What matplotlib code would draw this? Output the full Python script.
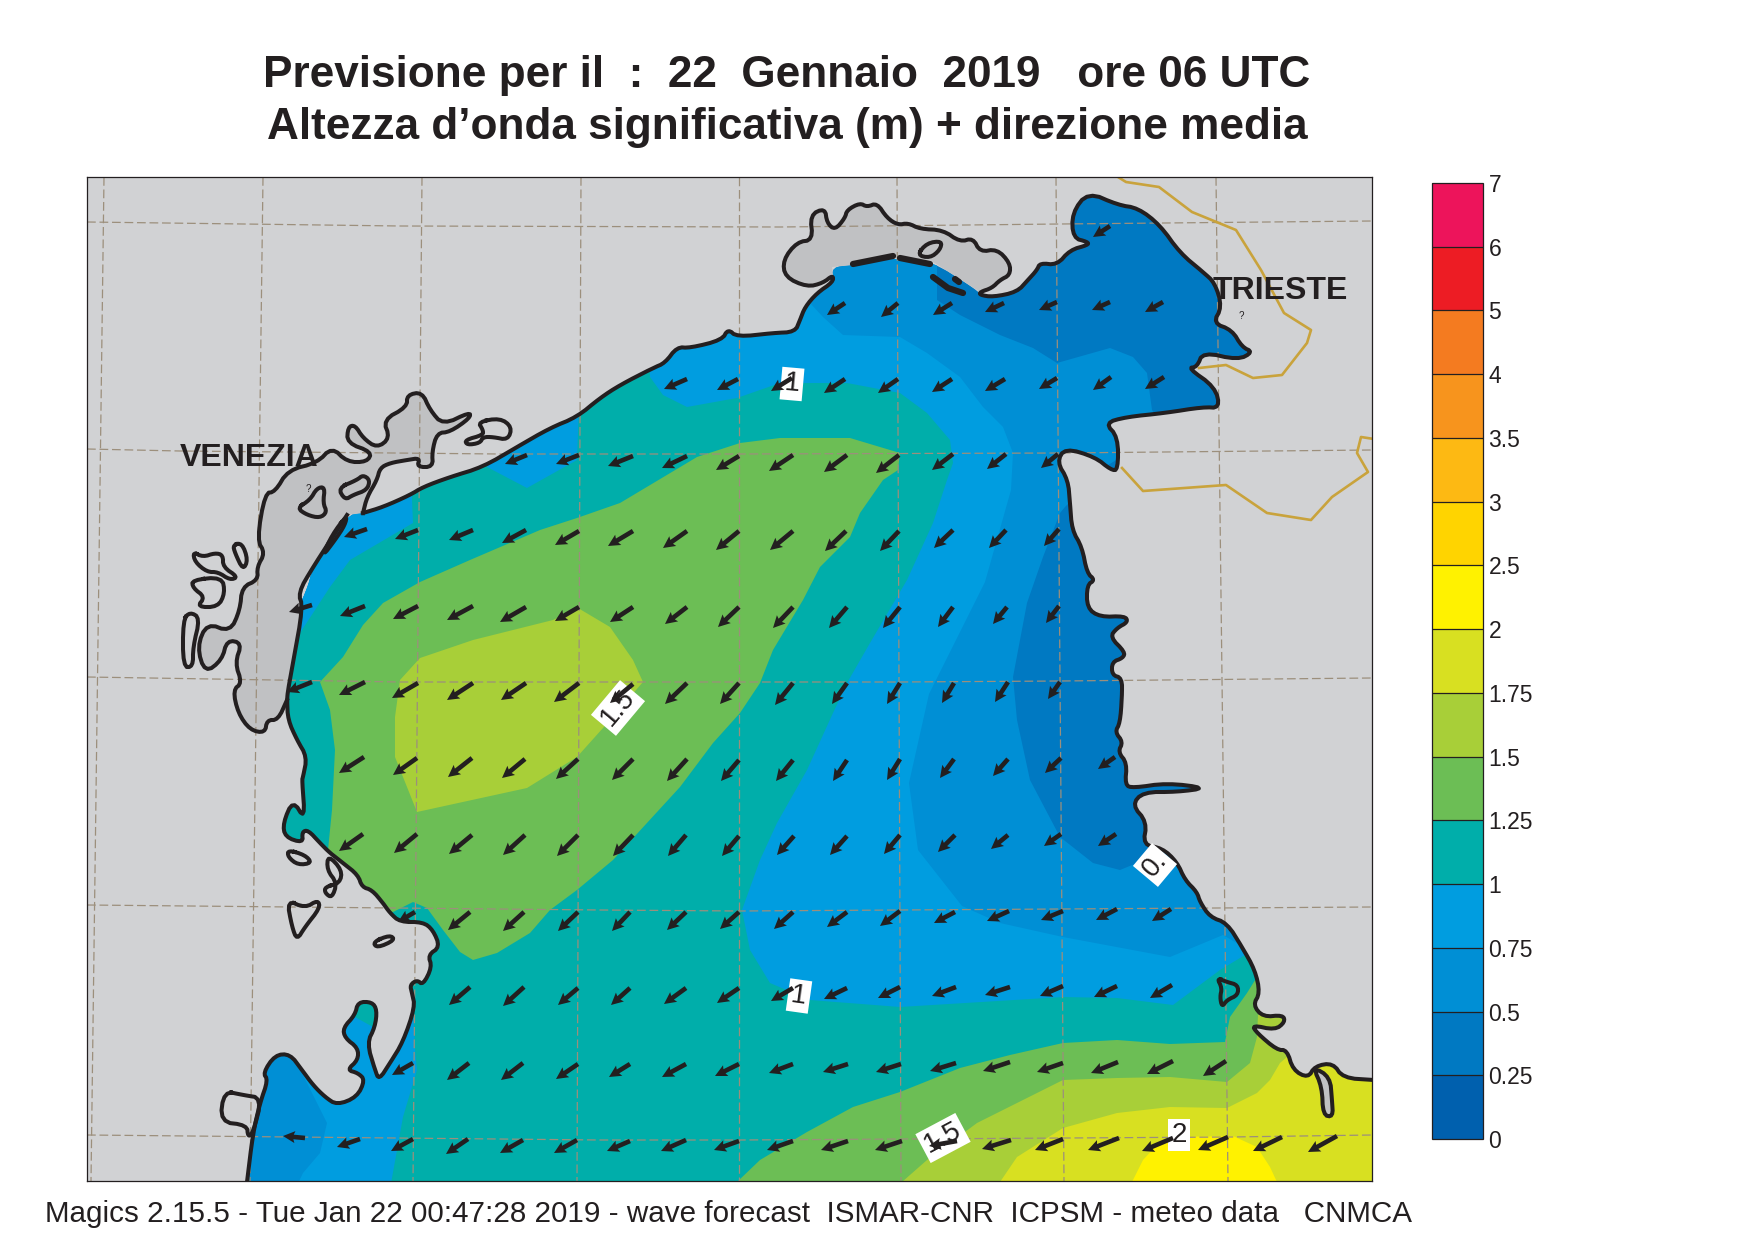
import matplotlib
matplotlib.use('Agg')
import matplotlib.pyplot as plt
from matplotlib.colors import ListedColormap, BoundaryNorm
from matplotlib.colorbar import ColorbarBase

plt.rcParams['font.family'] = ['Liberation Sans', 'DejaVu Sans']

DARK = '#231f20'
LAND = '#d1d2d4'
LAGOON = '#c0c1c3'
GRID = '#9c8f7c'
BORDER = '#c9a33c'

# colour scale
levels = [0, 0.25, 0.5, 0.75, 1, 1.25, 1.5, 1.75, 2, 2.5, 3, 3.5, 4, 5, 6, 7]
level_labels = ['0', '0.25', '0.5', '0.75', '1', '1.25', '1.5', '1.75', '2', '2.5', '3', '3.5', '4', '5', '6', '7']
level_colors = ['#0060ae', '#0079c2', '#008fd5', '#009de0', '#00aeaa', '#6cbe55', '#a8cf38', '#d8e021',
                '#fff200', '#ffd400', '#fdb913', '#f7941d', '#f47b20', '#ed1c24', '#ed145b']

# coast, in map units
coast_sw = [(247, 1182), (253, 1133), (260, 1103), (268, 1080), (263, 1073), (275, 1055), (290, 1054), (302, 1070),
            (313, 1085), (325, 1097), (337, 1105), (357, 1097), (365, 1080), (358, 1073), (347, 1070), (358, 1060),
            (358, 1048), (345, 1038), (343, 1028), (355, 1015), (358, 1002), (372, 1002), (377, 1010), (375, 1027),
            (367, 1043), (375, 1070), (379, 1080), (390, 1063), (403, 1042), (415, 1007), (412, 993), (410, 985),
            (417, 980), (423, 985), (432, 967), (428, 955), (440, 947), (433, 930), (423, 922), (400, 922),
            (390, 913), (383, 903), (372, 890), (362, 887), (358, 875), (343, 863), (330, 853), (320, 843),
            (308, 830), (302, 832), (303, 843), (285, 837), (283, 823), (293, 800), (305, 820), (302, 780),
            (303, 777), (307, 757), (297, 740), (288, 720), (287, 700)]
lido_line = [(288, 690), (293, 663), (303, 607), (298, 593), (313, 567), (347, 515)]
lido_sea = [(289, 690), (290, 625), (307, 590), (313, 567), (347, 515)]
coast_n = [(363, 513), (383, 507), (410, 495), (423, 487), (450, 477), (483, 467), (517, 447), (550, 428), (577, 417),
           (600, 398), (620, 385), (653, 368), (665, 363), (677, 347), (690, 348), (722, 340), (728, 329), (737, 337),
           (773, 333), (795, 332), (800, 320), (805, 307), (817, 293), (833, 282)]
marano_inner = [(832, 267), (853, 265), (895, 258), (930, 260), (977, 290)]
marano_outer = [(833, 275), (823, 283), (807, 287), (785, 277), (783, 260), (797, 242), (813, 240), (810, 215),
                (825, 208), (827, 223), (835, 230), (845, 218), (847, 210), (860, 203), (867, 207), (877, 203),
                (887, 218), (898, 225), (908, 223), (920, 229), (943, 230), (960, 242), (973, 238), (980, 252),
                (997, 249), (1010, 263), (1010, 275), (1000, 280), (992, 288), (980, 292)]
coast_e = [(980, 295), (993, 297), (1017, 292), (1028, 280), (1037, 270), (1040, 263), (1057, 265), (1070, 250),
           (1088, 245), (1088, 242), (1073, 238), (1072, 213), (1088, 192), (1118, 205), (1138, 208), (1160, 225),
           (1180, 253), (1203, 272), (1215, 283), (1222, 307), (1213, 323), (1232, 330), (1242, 347), (1253, 352),
           (1238, 360), (1203, 352), (1197, 367), (1188, 368), (1215, 387), (1220, 408), (1203, 407), (1165, 413),
           (1126, 417), (1105, 423), (1118, 437), (1118, 470), (1111, 470), (1095, 457), (1065, 448), (1057, 462),
           (1068, 480), (1070, 503), (1072, 530), (1082, 547), (1087, 573), (1095, 580), (1087, 585), (1087, 608),
           (1100, 617), (1125, 616), (1128, 622), (1117, 628), (1110, 637), (1125, 652), (1123, 658), (1112, 662),
           (1112, 675), (1122, 678), (1122, 697), (1120, 723), (1115, 732), (1123, 742), (1118, 752), (1127, 763),
           (1125, 785), (1133, 788), (1167, 783), (1207, 788), (1177, 792), (1143, 792), (1132, 805), (1147, 822),
           (1143, 845), (1162, 848), (1177, 862), (1185, 880), (1197, 892), (1200, 902), (1210, 917), (1227, 923),
           (1242, 947), (1255, 970), (1260, 993), (1253, 1005), (1263, 1017), (1283, 1015), (1285, 1022), (1275, 1030),
           (1252, 1025), (1257, 1033), (1277, 1050), (1287, 1050), (1293, 1070), (1308, 1078), (1315, 1066),
           (1333, 1063), (1343, 1078), (1374, 1080)]
sea_corners = [(1374, 1182)]

# Venice lagoon outline, from the south tip round to the north mouth
venice_outline = [(287, 700), (278, 720), (267, 720), (265, 733), (250, 730), (238, 713), (233, 690), (242, 683),
                  (235, 663), (242, 643), (227, 640), (222, 660), (205, 673), (197, 647), (207, 623), (230, 632),
                  (240, 610), (242, 587), (258, 580), (257, 567), (265, 553), (257, 540), (265, 493), (275, 492),
                  (288, 470), (317, 463), (332, 447), (347, 462), (367, 462), (372, 452), (347, 443), (348, 427),
                  (355, 425), (363, 438), (377, 448), (390, 438), (383, 420), (407, 407), (407, 395), (422, 392),
                  (430, 410), (443, 425), (470, 412), (470, 418), (450, 432), (437, 433), (432, 452), (433, 467),
                  (417, 467), (420, 458), (407, 460), (390, 463), (380, 468), (377, 480), (367, 497), (363, 513)]

# islands and small lagoons, outline only
islands = [
    [(297, 508), (310, 500), (317, 488), (325, 487), (323, 503), (327, 512), (320, 518), (307, 515)],
    [(338, 488), (357, 480), (363, 475), (370, 480), (367, 490), (353, 495), (345, 500)],
    [(347, 515), (332, 535), (322, 557), (335, 540), (345, 525)],
    [(478, 422), (500, 418), (512, 427), (508, 440), (493, 437), (483, 437), (480, 443), (467, 445), (465, 440), (483, 435), (483, 430)],
    [(233, 545), (242, 543), (248, 560), (243, 570), (235, 553)],
    [(193, 552), (203, 557), (215, 553), (223, 555), (223, 567), (238, 577), (230, 580), (218, 572), (207, 572), (195, 562)],
    [(192, 580), (222, 577), (225, 593), (218, 607), (197, 607), (205, 597), (193, 588)],
    [(183, 620), (190, 612), (200, 618), (193, 647), (193, 667), (183, 667)],
    [(288, 850), (305, 855), (312, 863), (298, 865), (288, 857)],
    [(287, 900), (305, 908), (318, 900), (320, 908), (305, 927), (297, 940), (292, 927)],
    [(373, 942), (390, 935), (395, 940), (377, 948)],
    [(325, 887), (340, 883), (342, 870), (328, 855), (327, 870), (337, 883), (332, 898), (325, 893)],
    [(224, 1091), (243, 1095), (262, 1098), (253, 1133), (248, 1137), (247, 1125), (220, 1122)],
    [(1217, 978), (1227, 982), (1238, 985), (1238, 995), (1227, 1000), (1222, 1007), (1220, 997), (1222, 988)],
    [(917, 255), (927, 243), (942, 241), (940, 250), (930, 258)],
]
inlet_se = [(1313, 1067), (1330, 1077), (1332, 1100), (1333, 1117), (1323, 1115), (1322, 1087)]
marks_thick = [[(853, 264), (893, 256)], [(900, 258), (930, 264)], [(933, 277), (948, 288), (963, 293)], [(955, 279), (959, 282)]]

# border line
border_n = [(1118, 177), (1126, 182), (1159, 187), (1192, 212), (1236, 230), (1261, 270), (1284, 313), (1311, 330),
            (1307, 343), (1282, 375), (1253, 378), (1226, 365), (1199, 368)]
border_s = [(1122, 468), (1143, 491), (1226, 485), (1267, 513), (1311, 520), (1332, 497), (1368, 472), (1357, 453),
            (1361, 437), (1374, 439)]

# graticule
meridians = [[(104, 177), (91, 1181)], [(263, 177), (250, 1181)], [(422, 177), (413, 1181)], [(581, 177), (577, 1181)],
             [(739, 177), (739, 1181)], [(897, 177), (901, 1181)], [(1056, 177), (1064, 1181)], [(1216, 177), (1228, 1181)]]
parallels = [[(87, 222), (400, 226), (780, 227), (1060, 224), (1372, 221)],
             [(87, 449), (180, 451), (500, 454), (739, 454), (1060, 453), (1372, 450)],
             [(87, 677), (400, 682), (900, 682), (1060, 681), (1372, 678)],
             [(87, 905), (600, 910), (740, 911), (1060, 909), (1372, 907)],
             [(87, 1135), (600, 1140), (740, 1140), (1230, 1137), (1372, 1135)]]

# wave height areas, each one is "height above this level"; points outside the sea get clipped
above_050 = [(100, 100), (937, 100), (937, 300), (960, 315), (1000, 335), (1033, 348), (1057, 363), (1110, 348),
             (1133, 357), (1147, 373), (1152, 410), (1165, 430), (1100, 470), (1065, 507), (1060, 513), (1043, 557),
             (1027, 603), (1013, 677), (1017, 720), (1030, 780), (1060, 837), (1093, 863), (1120, 870), (1137, 863),
             (1165, 855), (1300, 860), (1400, 900), (1400, 1200), (100, 1200)]
above_075 = [(700, 100), (805, 295), (810, 303), (823, 317), (843, 335), (900, 337), (927, 353), (960, 377),
             (983, 407), (1003, 427), (1013, 453), (1011, 490), (985, 582), (929, 694), (909, 783), (918, 850),
             (962, 906), (1000, 923), (1063, 937), (1170, 957), (1223, 935), (1240, 945), (1400, 945), (1400, 1200),
             (290, 1200), (303, 1173), (320, 1153), (327, 1123), (302, 1073), (280, 1040), (100, 1040), (100, 100)]
above_100 = [(100, 1000), (100, 640), (290, 640), (300, 633), (330, 587), (350, 560), (413, 523), (412, 500),
             (412, 480), (487, 455), (487, 467), (527, 488), (577, 460), (579, 405), (650, 360), (650, 377),
             (663, 395), (687, 407), (737, 398), (780, 383), (847, 383), (900, 393), (927, 413), (950, 440),
             (953, 463), (947, 480), (933, 523), (907, 580), (870, 643), (847, 683), (833, 713), (807, 770),
             (777, 823), (760, 860), (742, 910), (750, 950), (770, 983), (810, 1000), (900, 1007), (1063, 997),
             (1117, 998), (1173, 1005), (1220, 970), (1245, 955), (1400, 955), (1400, 1200), (388, 1200), (403, 1117),
             (417, 1070), (415, 1050), (413, 1005), (373, 1027), (355, 1017), (340, 1010)]
above_125_w = [(470, 560), (420, 582), (383, 603), (363, 625), (343, 657), (320, 682), (330, 710), (335, 750),
               (332, 810), (328, 850), (310, 860), (320, 900), (393, 912), (413, 902), (427, 908), (443, 930),
               (460, 952), (473, 960), (497, 953), (530, 933), (550, 910), (577, 890), (613, 860), (680, 787),
               (713, 743), (740, 713), (760, 683), (773, 650), (803, 600), (820, 567), (850, 537), (860, 513),
               (883, 480), (898, 470), (900, 453), (850, 438), (780, 438), (740, 443), (697, 457), (620, 503),
               (577, 518), (540, 530)]
above_125_e = [(737, 1182), (760, 1160), (807, 1132), (853, 1107), (900, 1092), (960, 1068), (1010, 1055), (1063, 1043),
               (1117, 1040), (1170, 1044), (1225, 1042), (1230, 1017), (1247, 993), (1257, 977), (1300, 970), (1400, 970),
               (1400, 1200), (737, 1200)]
above_150_w = [(578, 608), (553, 620), (473, 640), (420, 658), (400, 680), (395, 717), (395, 757), (417, 812),
               (527, 788), (577, 757), (603, 728), (643, 682), (633, 660), (610, 627)]
above_150_e = [(902, 1182), (927, 1160), (977, 1123), (1013, 1105), (1063, 1080), (1117, 1078), (1170, 1077), (1227, 1082),
               (1250, 1063), (1257, 1037), (1258, 1015), (1400, 990), (1400, 1200), (902, 1200)]
above_175 = [(1000, 1182), (1017, 1157), (1063, 1128), (1117, 1113), (1170, 1107), (1227, 1108), (1257, 1093), (1270, 1080),
             (1280, 1063), (1287, 1057), (1400, 1050), (1400, 1200), (1000, 1200)]
above_200 = [(1132, 1182), (1143, 1160), (1155, 1147), (1173, 1137), (1233, 1136), (1257, 1147), (1270, 1167), (1277, 1182),
             (1277, 1200), (1132, 1200)]

# wave direction arrows, each row is (x, y of tail, u, v)
arrows_a = [(1110, 226, -17, 11)]
arrows_b = [(845, 303, -18, 12), (898, 303, -17, 14), (952, 303, -19, 12), (1004, 303, -19, 9), (1057, 302, -18, 8),
            (1110, 302, -18, 8), (1163, 302, -18, 10)]
arrows_c = [(687, 379, -23, 10), (738, 379, -21, 11), (792, 378, -21, 13), (845, 379, -21, 14), (898, 379, -20, 14),
            (952, 379, -20, 13), (1005, 379, -20, 12), (1057, 378, -18, 11), (1111, 377, -18, 13), (1164, 377, -19, 12)]
arrows_d = [(527, 455, -22, 9), (579, 455, -23, 9), (633, 456, -25, 10), (687, 456, -25, 12), (739, 456, -23, 14),
            (793, 455, -24, 16), (847, 455, -23, 17), (899, 455, -23, 18), (953, 454, -21, 16), (1006, 454, -19, 15),
            (1058, 454, -17, 14)]
arrows_e = [(367, 529, -23, 8), (418, 530, -23, 9), (473, 530, -24, 10), (526, 530, -24, 13), (579, 531, -24, 14),
            (633, 531, -25, 15), (687, 531, -24, 17), (739, 531, -23, 19), (793, 531, -23, 19), (846, 531, -21, 20),
            (899, 531, -19, 20), (953, 530, -19, 18), (1006, 530, -17, 18), (1059, 529, -15, 17)]
arrows_f = [(312, 605, -23, 7), (365, 606, -25, 10), (418, 606, -25, 13), (473, 606, -26, 14), (526, 607, -26, 15),
            (579, 607, -24, 14), (633, 607, -23, 15), (687, 607, -22, 17), (739, 607, -21, 20), (793, 607, -20, 21),
            (847, 607, -18, 21), (900, 607, -17, 21), (953, 607, -15, 20), (1007, 607, -14, 17), (1059, 606, -13, 17)]
arrows_g = [(312, 682, -25, 10), (365, 682, -26, 13), (418, 683, -26, 15), (473, 683, -26, 17), (526, 683, -25, 17),
            (579, 683, -25, 19), (633, 684, -23, 19), (687, 683, -22, 21), (739, 683, -19, 21), (793, 683, -18, 22),
            (847, 683, -15, 21), (900, 683, -13, 21), (954, 683, -12, 20), (1008, 682, -13, 20), (1060, 682, -12, 17)]
arrows_h = [(364, 757, -25, 16), (417, 758, -24, 17), (472, 758, -24, 19), (525, 759, -23, 19), (578, 759, -22, 20),
            (633, 759, -21, 21), (687, 759, -20, 22), (739, 760, -18, 21), (793, 760, -17, 21), (847, 760, -14, 21),
            (900, 759, -13, 21), (954, 759, -14, 19), (1008, 759, -15, 17), (1061, 758, -16, 15), (1115, 757, -17, 12)]
arrows_i = [(363, 834, -24, 17), (417, 834, -23, 19), (472, 835, -23, 19), (525, 835, -22, 20), (578, 835, -21, 21),
            (633, 835, -20, 21), (686, 835, -18, 21), (739, 836, -17, 20), (794, 836, -17, 19), (847, 836, -17, 19),
            (900, 835, -16, 19), (955, 835, -17, 17), (1008, 835, -17, 14), (1061, 834, -17, 12), (1116, 834, -18, 12)]
arrows_j = [(415, 912, -17, 10), (470, 912, -22, 18), (524, 912, -21, 19), (578, 912, -20, 19), (630, 912, -18, 19),
            (686, 912, -19, 18), (739, 912, -19, 17), (793, 912, -19, 17), (847, 912, -20, 15), (900, 911, -20, 15),
            (955, 912, -21, 11), (1009, 911, -22, 10), (1063, 911, -22, 9), (1117, 909, -21, 11), (1171, 909, -19, 12)]
arrows_k = [(470, 987, -21, 18), (524, 987, -21, 19), (578, 988, -20, 17), (630, 988, -19, 17), (686, 988, -22, 16),
            (739, 988, -22, 15), (793, 988, -22, 13), (847, 988, -23, 11), (900, 987, -22, 11), (956, 987, -24, 9),
            (1010, 987, -25, 8), (1063, 986, -23, 10), (1117, 986, -23, 11), (1172, 985, -22, 13)]
arrows_l = [(413, 1063, -21, 12), (469, 1063, -22, 17), (523, 1063, -22, 17), (578, 1064, -22, 15), (630, 1064, -21, 13),
            (686, 1064, -24, 13), (739, 1064, -24, 12), (793, 1064, -24, 9), (848, 1064, -25, 8), (901, 1064, -25, 8),
            (956, 1063, -26, 8), (1010, 1062, -27, 9), (1063, 1063, -26, 9), (1118, 1062, -27, 11), (1173, 1061, -26, 13),
            (1226, 1061, -23, 15)]
arrows_m = [(305, 1138, -22, -2), (360, 1139, -23, 8), (413, 1139, -22, 12), (468, 1139, -22, 15), (523, 1140, -23, 13),
            (577, 1140, -23, 13), (630, 1141, -23, 10), (686, 1140, -25, 11), (739, 1141, -25, 9), (793, 1141, -26, 9),
            (848, 1141, -27, 9), (902, 1141, -27, 9), (957, 1141, -28, 5), (1011, 1140, -29, 9), (1063, 1139, -28, 11),
            (1119, 1138, -31, 12), (1173, 1138, -31, 13), (1228, 1137, -30, 13), (1282, 1137, -29, 14), (1337, 1136, -29, 16)]

# contour labels: text, x, y, rotation
contour_labels = [('1', 792, 384, -5), ('1.5', 618, 708, 50), ('0.', 1155, 865, 50),
                  ('1', 799, 996, -8), ('1.5', 943, 1138, 28), ('2', 1179, 1135, 0)]

W, H = 1755, 1242


def box(left, top, right, bottom):
    return [left / W, 1 - bottom / H, (right - left) / W, (bottom - top) / H]


def xs(pts):
    return [p[0] for p in pts]


def ys(pts):
    return [p[1] for p in pts]


def rounded(pts, closed=False, passes=2):
    # corner cutting so the traced outlines are drawn round instead of with kinks
    for _ in range(passes):
        src = pts + [pts[0]] if closed else pts
        out = [] if closed else [pts[0]]
        for (x0, y0), (x1, y1) in zip(src[:-1], src[1:]):
            out.append((0.75 * x0 + 0.25 * x1, 0.75 * y0 + 0.25 * y1))
            out.append((0.25 * x0 + 0.75 * x1, 0.25 * y0 + 0.75 * y1))
        if closed:
            out.append(out[0])
        else:
            out.append(pts[-1])
        pts = out[:-1] if closed else out
    return pts + [pts[0]] if closed else pts


fig = plt.figure(figsize=(W / 100, H / 100), dpi=100, facecolor='white')
ax = fig.add_axes(box(87, 177, 1372, 1181))
ax.set_xlim(87, 1372)
ax.set_ylim(1181, 177)
ax.set_facecolor(LAND)
ax.set_xticks([])
ax.set_yticks([])
for s in ax.spines.values():
    s.set_linewidth(0.9)
    s.set_color(DARK)
    s.set_zorder(20)

# sea and wave height bands
sea = rounded(coast_sw + lido_sea + coast_n + marano_inner + coast_e) + sea_corners
sea_patch = ax.fill(xs(sea), ys(sea), color=level_colors[1], lw=0, zorder=1)[0]
bands = [(above_050, 2), (above_075, 3), (above_100, 4), (above_125_w, 5), (above_125_e, 5),
         (above_150_w, 6), (above_150_e, 6), (above_175, 7), (above_200, 8)]
for pts, idx in bands:
    p = ax.fill(xs(pts), ys(pts), color=level_colors[idx], lw=0, zorder=2)[0]
    p.set_clip_path(sea_patch)

# darker lagoons
venice_fill = rounded(venice_outline) + lido_line[::-1]
ax.fill(xs(venice_fill), ys(venice_fill), color=LAGOON, lw=0, zorder=3)
marano_fill = rounded(marano_outer) + marano_inner[::-1]
ax.fill(xs(marano_fill), ys(marano_fill), color=LAGOON, lw=0, zorder=3)

# graticule
for line in meridians + parallels:
    ax.plot(xs(line), ys(line), color=GRID, lw=0.9, ls=(0, (7, 3)), zorder=4)

# borders
for line in [border_n, border_s]:
    ax.plot(xs(line), ys(line), color=BORDER, lw=1.9, zorder=5)

# coast outline
line_style = dict(color=DARK, lw=2.9, solid_joinstyle='round', zorder=6)
coast_line = rounded(coast_sw + lido_line)
ax.plot(xs(coast_line), ys(coast_line), **line_style)
venice_line = rounded(venice_outline)
ax.plot(xs(venice_line), ys(venice_line), **line_style)
north_line = rounded(coast_n + marano_outer + coast_e)
ax.plot(xs(north_line), ys(north_line), **line_style)
for isl in islands:
    ring = rounded(isl, closed=True)
    ax.plot(xs(ring), ys(ring), **line_style)
inlet_ring = rounded(inlet_se, closed=True)
ax.fill(xs(inlet_ring), ys(inlet_ring), facecolor=LAGOON, edgecolor=DARK, lw=2.9, zorder=6)
for m in marks_thick:
    ax.plot(xs(m), ys(m), color=DARK, lw=4.5, solid_capstyle='round', zorder=6)

# city names
ax.text(180, 458, 'VENEZIA', fontsize=23, fontweight='bold', color=DARK, va='center', ha='left', zorder=8)
ax.text(1213, 291, 'TRIESTE', fontsize=23, fontweight='bold', color=DARK, va='center', ha='left', zorder=8)
ax.text(308, 489, '?', fontsize=7, color=DARK, ha='center', va='center', zorder=8)
ax.text(1241, 316, '?', fontsize=7, color=DARK, ha='center', va='center', zorder=8)

# contour labels, under the arrows
for txt, x, y, rot in contour_labels:
    ax.text(x, y, txt, fontsize=20, color=DARK, rotation=rot, rotation_mode='anchor', ha='center', va='center', zorder=9,
            bbox=dict(facecolor='white', edgecolor='none', pad=2.5))

# wave direction
arrow_rows = [arrows_a, arrows_b, arrows_c, arrows_d, arrows_e, arrows_f, arrows_g, arrows_h, arrows_i, arrows_j,
              arrows_k, arrows_l, arrows_m]
for row in arrow_rows:
    ax.quiver([a[0] for a in row], [a[1] for a in row], [a[2] for a in row], [a[3] for a in row],
              angles='xy', scale_units='xy', scale=1, units='xy', width=4.6, pivot='tail',
              headwidth=2.6, headlength=2.6, headaxislength=2.3, color=DARK, zorder=10)

# colour bar, equal cells for unequal steps
cax = fig.add_axes(box(1432, 183, 1483, 1139))
cmap = ListedColormap(level_colors)
norm = BoundaryNorm(levels, cmap.N)
cb = ColorbarBase(cax, cmap=cmap, norm=norm, spacing='uniform', orientation='vertical', drawedges=True,
                  ticks=levels)
cb.set_ticklabels(level_labels)
cb.dividers.set_color(DARK)
cb.dividers.set_linewidth(0.9)
cb.outline.set_edgecolor(DARK)
cb.outline.set_linewidth(0.9)
cax.tick_params(length=0, pad=4, labelsize=16.5, labelcolor=DARK)

# titles
fig.text(787 / W, 1 - 75 / H, 'Previsione per il  :  22  Gennaio  2019   ore 06 UTC', fontsize=31.8, fontweight='bold',
         color=DARK, ha='center', va='center')
fig.text(787 / W, 1 - 128 / H, 'Altezza d\u2019onda significativa (m) + direzione media', fontsize=31.8, fontweight='bold',
         color=DARK, ha='center', va='center')
fig.text(45 / W, 1 - 1214 / H, 'Magics 2.15.5 - Tue Jan 22 00:47:28 2019 - wave forecast  ISMAR-CNR  ICPSM - meteo data   CNMCA',
         fontsize=21.3, color=DARK, ha='left', va='center')

fig.savefig('out.png', dpi=100)
plt.close(fig)
